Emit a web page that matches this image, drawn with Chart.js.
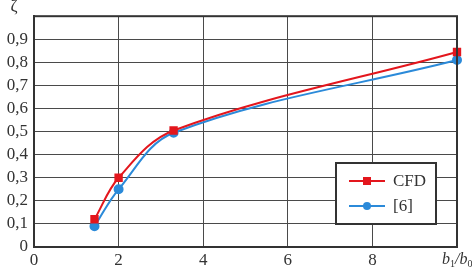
<!DOCTYPE html>
<html>
<head>
<meta charset="utf-8">
<script src="https://cdn.jsdelivr.net/npm/chart.js@4/dist/chart.umd.min.js"></script>
<style>
  body { margin: 0; background: #fff; }
  canvas { display: block; }
</style>
</head>
<body>
<canvas id="myChart" width="472" height="270"></canvas>
<script>
  // datos
  const ratios = [1.43, 2.0, 3.3, 10.0];
  const cfdValues = [0.12, 0.30, 0.505, 0.845];
  const refValues = [0.09, 0.25, 0.495, 0.81];
  const seriesNames = ['CFD', '[6]'];
  const xTicks = [0, 2, 4, 6, 8];
  const yTicks = [0, 0.1, 0.2, 0.3, 0.4, 0.5, 0.6, 0.7, 0.8, 0.9];

  const FONT = '"Liberation Serif", "Times New Roman", serif';
  const RED = '#e3161d';
  const BLUE = '#2b8ad9';

  // marco, simbolo zeta, etiqueta b1/b0 y leyenda dentro del grafico
  const extras = {
    id: 'extras',
    afterDraw(chart) {
      const ctx = chart.ctx;
      const a = chart.chartArea;
      ctx.save();
      ctx.strokeStyle = '#333';
      ctx.lineWidth = 2;
      ctx.strokeRect(a.left, a.top, a.right - a.left, a.bottom - a.top);

      ctx.fillStyle = '#333';
      ctx.font = '17px ' + FONT;
      ctx.textAlign = 'center';
      ctx.textBaseline = 'middle';
      ctx.fillText('\u03B6', 14, 7);

      // b1/b0 en cursiva con subindices
      ctx.textAlign = 'left';
      ctx.textBaseline = 'alphabetic';
      let x = 442, y = 264;
      ctx.font = 'italic 16px ' + FONT;
      ctx.fillText('b', x, y); x += ctx.measureText('b').width;
      ctx.font = '10px ' + FONT;
      ctx.fillText('1', x, y + 3); x += ctx.measureText('1').width;
      ctx.font = 'italic 16px ' + FONT;
      ctx.fillText('/b', x, y); x += ctx.measureText('/b').width;
      ctx.font = '10px ' + FONT;
      ctx.fillText('0', x, y + 3);

      // leyenda
      const lx = 336, ly = 163, lw = 100, lh = 61;
      ctx.fillStyle = '#fff';
      ctx.fillRect(lx, ly, lw, lh);
      ctx.strokeStyle = '#333';
      ctx.lineWidth = 2;
      ctx.strokeRect(lx, ly, lw, lh);
      chart.data.datasets.forEach((ds, i) => {
        const yy = ly + 18 + i * 25;
        ctx.strokeStyle = ds.borderColor;
        ctx.lineWidth = 2;
        ctx.beginPath();
        ctx.moveTo(lx + 13, yy);
        ctx.lineTo(lx + 49, yy);
        ctx.stroke();
        ctx.fillStyle = ds.backgroundColor;
        if (ds.pointStyle === 'rect') {
          ctx.fillRect(lx + 27, yy - 4, 8, 8);
        } else {
          ctx.beginPath();
          ctx.arc(lx + 31, yy, 4, 0, Math.PI * 2);
          ctx.fill();
        }
        ctx.fillStyle = '#333';
        ctx.font = '17px ' + FONT;
        ctx.textAlign = 'left';
        ctx.textBaseline = 'middle';
        ctx.fillText(ds.label, lx + 57, yy + 1);
      });
      ctx.restore();
    }
  };

  const ctx = document.getElementById('myChart');
  const myChart = new Chart(ctx, {
    type: 'line',
    data: {
      datasets: [
        {
          label: seriesNames[0],
          data: ratios.map((r, i) => ({ x: r, y: cfdValues[i] })),
          borderColor: RED,
          backgroundColor: RED,
          borderWidth: 2,
          pointStyle: 'rect',
          pointRadius: 4.5,
          tension: 0.35,
          clip: false
        },
        {
          label: seriesNames[1],
          data: ratios.map((r, i) => ({ x: r, y: refValues[i] })),
          borderColor: BLUE,
          backgroundColor: BLUE,
          borderWidth: 2,
          pointStyle: 'circle',
          pointRadius: 4,
          tension: 0.35,
          clip: false
        }
      ]
    },
    options: {
      responsive: false,
      animation: false,
      layout: { padding: { left: 0, right: 15, top: 8, bottom: 0 } },
      plugins: {
        legend: { display: false },
        tooltip: { enabled: false }
      },
      scales: {
        x: {
          type: 'linear',
          min: 0,
          max: 10,
          afterFit: (s) => { s.height = 23; },
          afterBuildTicks: (s) => { s.ticks = xTicks.concat([10]).map(v => ({ value: v })); },
          ticks: {
            autoSkip: false,
            maxRotation: 0,
            padding: 3,
            color: '#333',
            font: { family: FONT, size: 17 },
            callback: (v) => (xTicks.includes(v) ? String(v) : '')
          },
          grid: { color: '#4a4a4a', lineWidth: 1, drawTicks: false },
          border: { color: '#333', width: 2 }
        },
        y: {
          min: 0,
          max: 1,
          afterFit: (s) => { s.width = 34; },
          afterBuildTicks: (s) => { s.ticks = yTicks.concat([1]).map(v => ({ value: v })); },
          ticks: {
            autoSkip: false,
            padding: 6,
            color: '#333',
            font: { family: FONT, size: 17 },
            callback: (v) => {
              const t = yTicks.find(k => Math.abs(k - v) < 1e-6);
              if (t === undefined) return '';
              return t === 0 ? '0' : t.toFixed(1).replace('.', ',');
            }
          },
          grid: { color: '#4a4a4a', lineWidth: 1, drawTicks: false },
          border: { color: '#333', width: 2 }
        }
      }
    },
    plugins: [extras]
  });
</script>
</body>
</html>
